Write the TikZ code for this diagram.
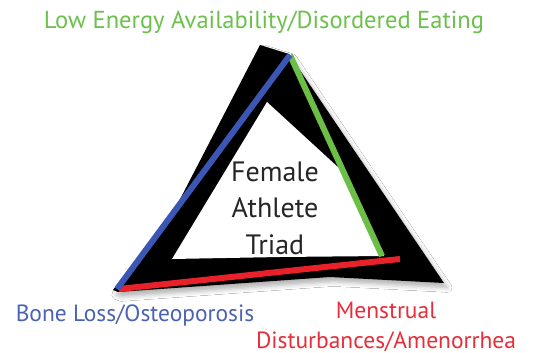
\documentclass[tikz,border=0pt]{standalone}
\usepackage{fontspec}
\setmainfont{PT Sans}
\usetikzlibrary{shadows.blur}
\definecolor{tgreen}{HTML}{6CBF46}
\definecolor{tblue}{HTML}{3B56B5}
\definecolor{tred}{HTML}{E8212B}
\definecolor{lgreen}{HTML}{6CC04C}
\definecolor{lblue}{HTML}{4A63B2}
\definecolor{lred}{HTML}{E62E3A}
\tikzset{
  bar/.style={line width=4.5pt, line cap=butt},
  lbl/.style={inner sep=0pt, font=\fontsize{17.6}{20}\selectfont},
  ctr/.style={inner sep=0pt, align=center, text=black!85, font=\fontsize{21}{27.4}\selectfont}
}
\begin{document}
\begin{tikzpicture}[x=0.75pt, y=-0.75pt]
\useasboundingbox (0,0) rectangle (536,353);
\fill[white] (0,0) rectangle (536,353);
% black frame with soft shadow
\fill[black, blur shadow={shadow xshift=2.5pt, shadow yshift=-3.5pt, shadow blur radius=3.5pt, shadow opacity=30}]
  (260,45) -- (289,54) -- (444,283) -- (330,277) -- (118,292) -- (113,290) -- (176,207) -- cycle;
% inner white opening
\fill[white] (267,102) -- (340,169) -- (384,256) -- (280,257) -- (172,259) -- cycle;
% coloured bars
\coordinate (top) at (290,55);
\coordinate (bl) at (117,289);
\coordinate (gend) at (382,256);
\coordinate (rstart) at (119,289);
\coordinate (rend) at (400,259);
\draw[bar, tgreen] (top) -- (gend);
\draw[bar, tred] (rstart) -- (rend);
\draw[bar, tblue] (bl) -- (top);
% labels
\node[lbl, text=lgreen, font=\fontsize{18.4}{20}\selectfont] (lea) at (264,22) {Low Energy Availability/Disordered Eating};
\node[lbl, text=lblue] (bone) at (135,315) {Bone Loss/Osteoporosis};
\node[lbl, text=lred, align=center, font=\fontsize{17.6}{22}\selectfont] (men) at (386,327) {Menstrual\\Disturbances/Amenorrhea};
\node[ctr] (fat) at (275,208) {Female\\Athlete\\Triad};
\end{tikzpicture}
\end{document}
